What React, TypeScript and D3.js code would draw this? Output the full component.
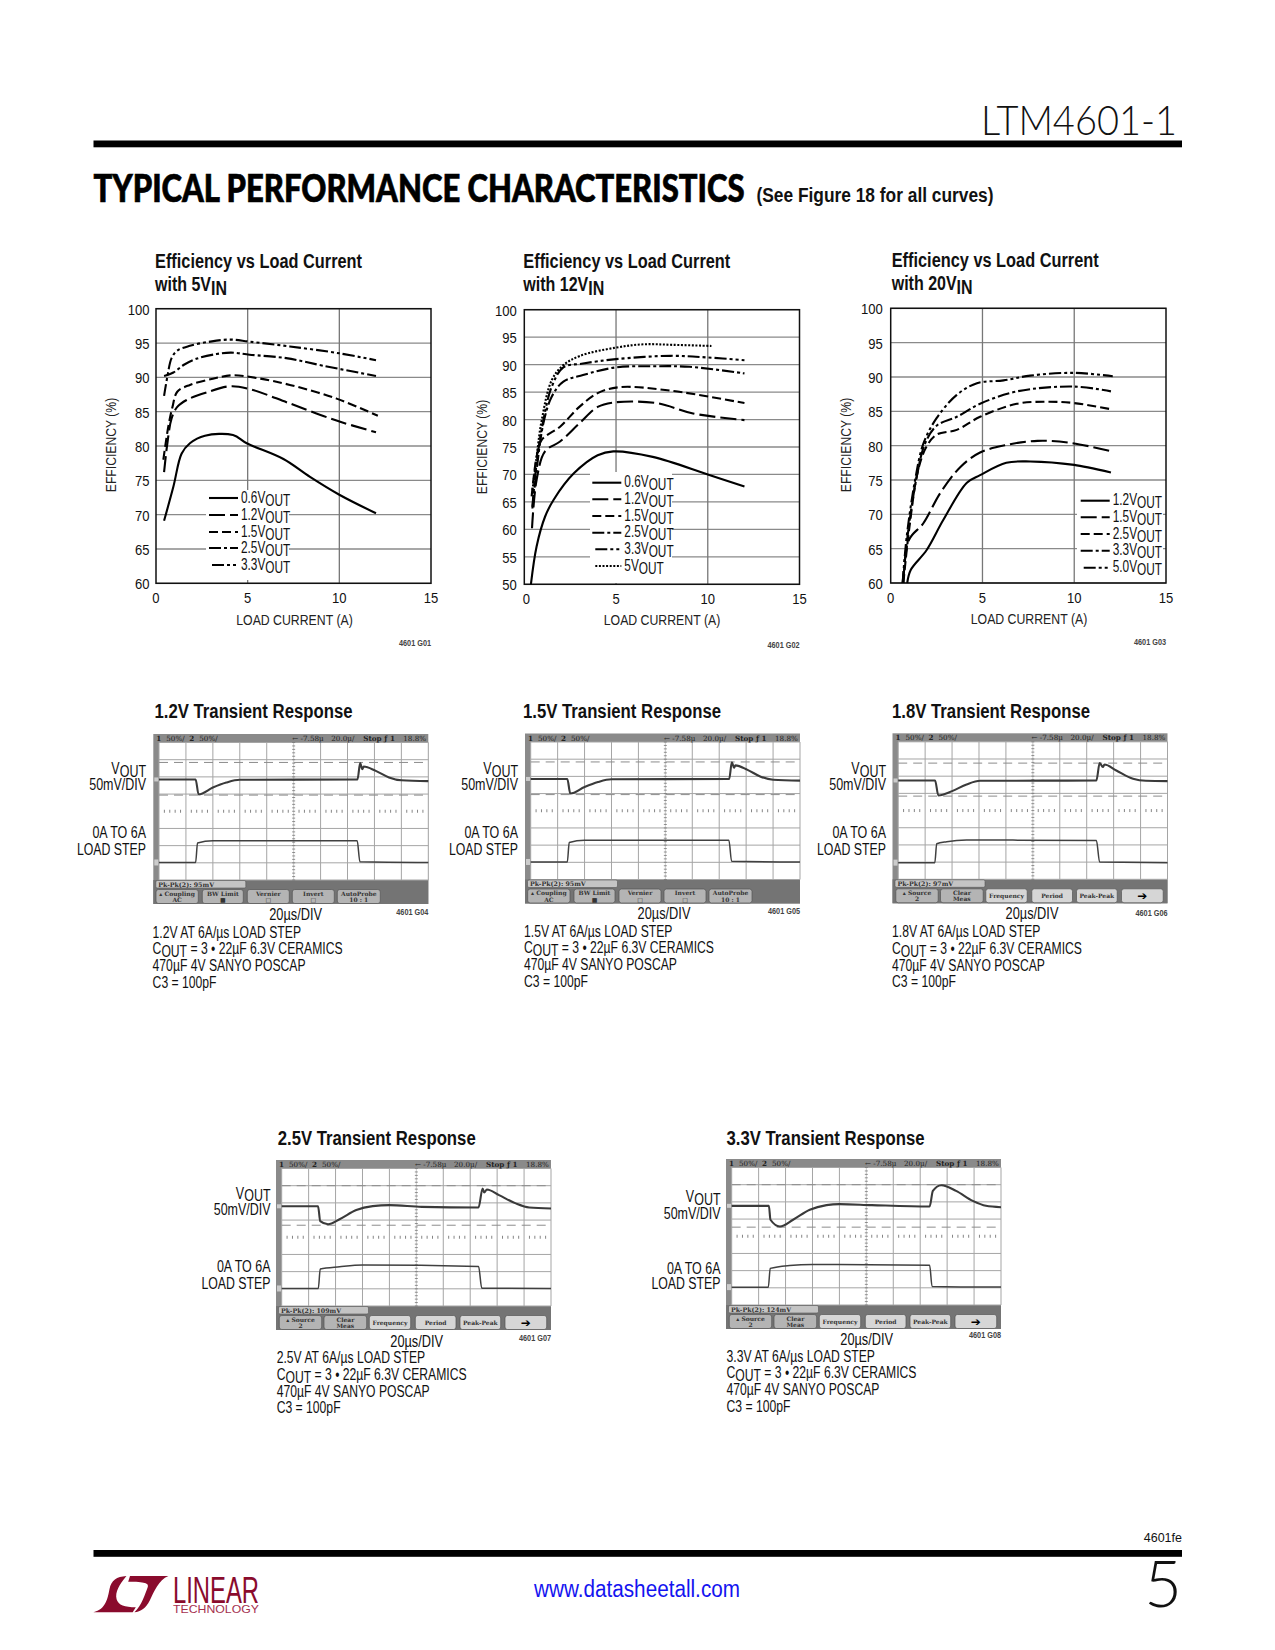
import React from "react";
import * as d3 from "d3";

type P = [number, number];
const NARROW = "'Liberation Sans',sans-serif";

// ---- Efficiency data: [load current A, efficiency %]
const eff5_06: P[] = [[.44,69.1],[.95,74.1],[1.4,78.9],[1.85,80.4],[2.67,81.5],[4.2,81.6],[4.95,80.4],[6.95,78.1],[8.4,75.5],[10,72.9],[12,70.2]];
const eff5_12: P[] = [[.44,76.2],[.62,80.4],[.85,84],[1.16,85.7],[1.67,86.7],[2.76,87.8],[4.04,88.7],[5.1,88.3],[7.3,86.2],[9.85,83.7],[12,82]];
const eff5_15: P[] = [[.4,78],[.67,82.8],[.9,85.7],[1.16,87.9],[1.85,88.9],[3.1,89.8],[4.2,90.3],[5.5,89.9],[7.3,88.9],[9.85,86.9],[12.1,84.4]];
const eff5_25: P[] = [[.44,90.2],[.95,90.7],[1.5,91.8],[2.2,92.7],[3.3,93.4],[4.1,93.6],[5.1,93.3],[7.1,92.8],[9.1,91.7],[12,90.2]];
const eff5_33: P[] = [[.44,87.3],[.62,90.1],[.85,92.8],[1.16,93.9],[1.85,94.6],[2.95,95.2],[4.04,95.5],[5.1,95.2],[7.3,94.5],[10,93.5],[12,92.5]];

const eff12_06: P[] = [[.36,50],[.67,56.9],[1.13,62.3],[1.6,65.4],[2.7,70.2],[4,73.5],[4.85,74.2],[7,73.2],[10,70],[12,67.8]];
const eff12_12: P[] = [[.42,60.2],[.67,69],[1.13,74.2],[1.95,76],[3,79.3],[4,82.3],[4.85,83.1],[7.2,83],[9.2,81.1],[12,79.9]];
const eff12_15: P[] = [[.4,66],[.67,73.2],[.95,76.3],[1.95,78.7],[3,82.3],[4,84.8],[5.2,85.9],[8.1,85.2],[12,83]];
const eff12_25: P[] = [[.44,63.8],[.67,70.8],[1.04,79.3],[1.5,84.2],[2.13,86.9],[3.2,88.1],[5,89.5],[7,89.7],[9,89.6],[12,88.4]];
const eff12_33: P[] = [[.44,64.1],[.67,72],[1.04,79.9],[1.5,86],[2.13,89.5],[3.2,90.2],[5,91],[7.96,91.6],[10,91.3],[12,90.8]];
const eff12_50: P[] = [[.45,67.2],[.67,73.2],[.95,79.9],[1.5,87.2],[2.13,89.9],[3.04,91.6],[5,93.1],[6.5,93.7],[8.1,93.6],[10.2,93.4]];

const eff20_12: P[] = [[.9,60],[1.09,61.9],[1.96,64.8],[2.87,69.2],[4.15,74.6],[4.87,75.7],[6.3,77.5],[7.6,77.7],[10,77.2],[12,76.1]];
const eff20_15: P[] = [[.69,60],[1,66.3],[1.78,68.7],[2.7,73.1],[3.8,76.9],[4.87,79],[6.3,80.1],[8,80.7],[9.8,80.4],[12,79.2]];
const eff20_25: P[] = [[.69,60],[1,67.7],[1.5,76.5],[1.96,79.9],[2.5,81.6],[3.6,82.3],[4.87,84.2],[6.87,86.1],[8.5,86.4],[10,86.2],[12,85.3]];
const eff20_33: P[] = [[.65,60],[.96,67.7],[1.42,75.5],[1.87,80.3],[2.5,82.9],[3.6,84.2],[4.87,86.1],[6.87,87.9],[10,88.6],[12,87.9]];
const eff20_50: P[] = [[.65,60],[.87,66.7],[1.33,75],[1.78,80.3],[2.5,84],[3.6,87.4],[4.7,89.1],[6.15,89.5],[7.6,90.2],[10,90.6],[12.1,90.1]];

const xTicks = [0, 5, 10, 15];
const yTicks60 = [60, 65, 70, 75, 80, 85, 90, 95, 100];
const yTicks50 = [50, 55, 60, 65, 70, 75, 80, 85, 90, 95, 100];
const DASH: Record<string, string> = {
  "0.6": "none", "1.2": "16 5", "1.5": "9 4", "2.5": "12 3 3 3", "3.3": "12 3 3 3 3 3", "5": "2 1.6",
};

// ---- Scope traces: [time division, screen division from top]
const v12: P[] = [[0,2.15],[1.36,2.15],[1.47,3.02],[2,2.62],[2.5,2.33],[3,2.17],[7.37,2.15],[7.47,1.2],[7.55,1.55],[7.6,1.4],[8.05,1.65],[8.54,2.03],[9,2.2],[10,2.25]];
const i12: P[] = [[0,6.98],[1.36,6.98],[1.43,5.85],[2,5.72],[7.36,5.72],[7.46,6.94],[10,6.98]];
const v15: P[] = [[0,2.15],[1.36,2.15],[1.47,3],[2,2.62],[2.5,2.33],[3,2.17],[7.37,2.15],[7.47,1.18],[7.55,1.5],[7.6,1.36],[8.05,1.62],[8.54,2.02],[9,2.2],[10,2.25]];
const i15: P[] = [[0,6.98],[1.36,6.98],[1.43,5.85],[2,5.72],[7.36,5.72],[7.46,6.94],[10,6.98]];
const v18: P[] = [[0,2.25],[1.37,2.25],[1.49,3.12],[2,2.87],[2.54,2.48],[3.04,2.27],[7.36,2.25],[7.48,1.24],[7.6,1.47],[7.66,1.32],[8.1,1.67],[8.72,2.15],[9.2,2.27],[10,2.29]];
const i18: P[] = [[0,7.03],[1.36,7.03],[1.43,5.93],[1.8,5.81],[2.54,5.72],[4.26,5.72],[7.36,5.74],[7.48,7],[10,7.03]];
const v25: P[] = [[0,2.2],[1.35,2.2],[1.43,3.06],[1.72,3.24],[2.15,2.95],[2.77,2.42],[3.38,2.19],[4,2.13],[5.2,2.23],[7.31,2.27],[7.46,1.16],[7.52,1.4],[7.62,1.22],[8.07,1.55],[8.69,2.03],[9.19,2.27],[10,2.33]];
const i25: P[] = [[0,6.98],[1.36,6.98],[1.43,5.85],[2.15,5.72],[3,5.62],[7.31,5.7],[7.43,6.96],[10,6.98]];
const v33: P[] = [[0,2.23],[1.38,2.23],[1.44,3.04],[1.79,3.43],[2.28,3.04],[2.9,2.46],[3.52,2.19],[4,2.13],[5.2,2.19],[7.35,2.27],[7.47,1.36],[7.78,1.03],[8.33,1.36],[8.95,1.94],[9.44,2.23],[10,2.31]];
const i33: P[] = [[0,6.96],[1.36,6.96],[1.43,5.87],[2.15,5.7],[3,5.64],[7.35,5.68],[7.44,6.92],[10,6.96]];

const timeDivs = d3.range(0, 11);
const vertDivs = d3.range(0, 9);
const captionTail = ["470µF 4V SANYO POSCAP", "C3 = 100pF"];
const buttonsA = [["Coupling", "AC"], ["BW Limit", "■"], ["Vernier", "□"], ["Invert", "□"], ["AutoProbe", "10 : 1"]];
const buttonsB = [["Source", "2"], ["Clear", "Meas"], ["Frequency"], ["Period"], ["Peak-Peak"], ["➔"]];

type TP = React.SVGProps<SVGTextElement> & { sx?: number; rot?: boolean };
// Liberation Sans squeezed horizontally stands in for the reference's Helvetica Narrow.
const T = ({ sx = 0.77, rot, x = 0, y = 0, ...p }: TP) =>
  p.textLength
    ? <text x={x} y={y} fontFamily={NARROW} fill="#111" {...p} />
    : <text transform={`translate(${x},${y})${rot ? " rotate(-90)" : ""} scale(${sx},1)`} fontFamily={NARROW} fill="#111" {...p} />;
const Sub = ({ a, b, c, drop = 3 }: { a: string; b: string; c?: string; drop?: number }) => (
  <>
    {a}<tspan dy={drop}>{b}</tspan>{c ? <tspan dy={-drop}>{c}</tspan> : null}
  </>
);

interface Series { name: string; dash: string; data: P[]; legendInset?: number }
interface EffProps {
  left: number; right: number; top: number; bottom: number; yMin: number; yTicks: number[];
  series: Series[]; title: string; sub: string; titleX: number; titleY: number;
  yLabelEnd: number; zeroX: number; axisX: number; axisMidY: number; xLabelX: number; xLabelY: number;
  code: string; codeY: number; legX: number; legY: number[]; mask: [number, number, number, number];
}

function EffChart(c: EffProps) {
  const x = d3.scaleLinear().domain([0, 15]).range([c.left, c.right]);
  const y = d3.scaleLinear().domain([c.yMin, 100]).range([c.bottom, c.top]);
  const line = d3.line<P>().x(d => x(d[0])).y(d => y(d[1])).curve(d3.curveCatmullRom.alpha(0.5));
  return (
    <g>
      <T x={c.titleX} y={c.titleY} fontSize={20} fontWeight="bold" textLength={207} lengthAdjust="spacingAndGlyphs">{c.title}</T>
      <T x={c.titleX} y={c.titleY + 23} fontSize={20} sx={0.8} fontWeight="bold">with {c.sub}<tspan dy={4}>IN</tspan></T>
      {c.yTicks.map(t => <line key={t} x1={c.left} x2={c.right} y1={y(t)} y2={y(t)} stroke="#8a8a8a" strokeWidth={1.3} />)}
      {[5, 10].map(t => <line key={t} x1={x(t)} x2={x(t)} y1={c.top} y2={c.bottom} stroke="#777" strokeWidth={1.3} />)}
      <rect x={c.mask[0]} y={c.mask[1]} width={c.mask[2]} height={c.mask[3]} fill="#fff" />
      <rect x={c.left} y={c.top} width={c.right - c.left} height={c.bottom - c.top} fill="none" stroke="#111" strokeWidth={1.5} />
      {c.series.map(s => <path key={s.name} d={line(s.data) ?? ""} fill="none" stroke="#000" strokeWidth={2.1} strokeDasharray={s.dash} />)}
      {c.series.map((s, i) => (
        <g key={s.name}>
          <line x1={c.legX - 32 + (s.legendInset ?? 0)} x2={c.legX - 3} y1={c.legY[i]} y2={c.legY[i]} stroke="#000" strokeWidth={2.1} strokeDasharray={s.dash} />
          <T x={c.legX} y={c.legY[i] + 4.5} fontSize={16} sx={0.74}><Sub a={s.name + "V"} b="OUT" /></T>
        </g>
      ))}
      {c.yTicks.map(t => <T key={t} x={c.yLabelEnd} y={y(t) + 6} fontSize={15} sx={0.87} textAnchor="end">{t}</T>)}
      {xTicks.map(t => <T key={t} x={t === 0 ? c.zeroX : x(t)} y={c.bottom + 20} fontSize={15} sx={0.87} textAnchor="middle">{t}</T>)}
      <T x={c.axisX} y={c.axisMidY} rot fontSize={14} sx={0.87} textAnchor="middle" fill="#222">EFFICIENCY (%)</T>
      <T x={c.xLabelX} y={c.xLabelY} fontSize={15} sx={0.82} textAnchor="middle" fill="#222">LOAD CURRENT (A)</T>
      <T x={c.right} y={c.codeY} fontSize={8.5} sx={0.86} textAnchor="end" fontWeight="bold" fill="#444">{c.code}</T>
    </g>
  );
}

interface ScopeProps {
  left: number; top: number; v: P[]; i: P[]; upper: number; lower: number; pk: string; buttons: string[][];
  title: string; titleX: number; titleY: number; labelRight: number; labelY: number[]; tbX: number; tbY: number; capX: number; capY: number;
  volt: string; code: string; codeY: number;
}

function Scope(s: ScopeProps) {
  const W = 275, H = 170, inset = 5.7;
  const x = d3.scaleLinear().domain([0, 10]).range([s.left + inset, s.left + W]);
  const y = d3.scaleLinear().domain([0, 8]).range([s.top + 8.5, s.top + 146]);
  const line = d3.line<P>().x(d => x(d[0])).y(d => y(d[1])).curve(d3.curveMonotoneX);
  const six = s.buttons.length === 6;
  const slots = six
    ? [[3.3, 42.4], [48, 42.7], [93.3, 41.4], [139.3, 40.7], [184, 40.7], [229, 41.7]]
    : [[2.7, 42.3], [49, 41], [94, 42], [139, 42], [184, 43]];
  const ticks = d3.range(0, 10.01, 0.2).filter(t => Math.abs(t - Math.round(t)) > 0.1);
  const vticks = d3.range(0, 8.01, 0.2);
  return (
    <g>
      <T x={s.titleX} y={s.titleY} fontSize={20} fontWeight="bold" textLength={198} lengthAdjust="spacingAndGlyphs">{s.title}</T>
      <rect x={s.left} y={s.top} width={W} height={H} fill="#8a8a8a" />
      <rect x={s.left} y={s.top + 146} width={W} height={H - 146} fill="#747474" />
      <rect x={x(0)} y={y(0)} width={W - inset} height={y(8) - y(0)} fill="#fff" />
      {timeDivs.map(t => <line key={t} x1={x(t)} x2={x(t)} y1={y(0)} y2={y(8)} stroke={t === 5 ? "#ccc" : "#a5a5a5"} strokeWidth={1} />)}
      {vertDivs.map(t => t === 4 ? null : <line key={t} x1={x(0)} x2={x(10)} y1={y(t)} y2={y(t)} stroke="#a5a5a5" strokeWidth={1} />)}
      {ticks.map(t => <line key={t} x1={x(t)} x2={x(t)} y1={y(4) - 1.5} y2={y(4) + 1.5} stroke="#666" strokeWidth={0.8} />)}
      {vticks.map(t => <line key={t} x1={x(5) - 1.5} x2={x(5) + 1.5} y1={y(t)} y2={y(t)} stroke="#777" strokeWidth={0.8} />)}
      <line x1={x(0)} x2={x(10)} y1={y(s.upper)} y2={y(s.upper)} stroke="#8c8c8c" strokeWidth={1} strokeDasharray="9 6" />
      <line x1={x(0)} x2={x(10)} y1={y(s.lower)} y2={y(s.lower)} stroke="#8c8c8c" strokeWidth={1} strokeDasharray="9 6" />
      <path d={line(s.v) ?? ""} fill="none" stroke="#3a3a3a" strokeWidth={2.1} />
      <path d={line(s.i) ?? ""} fill="none" stroke="#404040" strokeWidth={1.5} />
      <rect x={s.left + 1} y={y(s.v[0][1]) - 2} width={4} height={4} fill="#ccc" />
      <rect x={s.left + 1} y={y(s.i[0][1]) - 3} width={4} height={6} fill="#ccc" />
      <g fontFamily="'DejaVu Serif',serif" fontSize={7.2} fill="#222">
        <text x={s.left + 3} y={s.top + 7} fontWeight="bold">1</text>
        <text x={s.left + 13} y={s.top + 7}>50%/</text>
        <text x={s.left + 36} y={s.top + 7} fontWeight="bold">2</text>
        <text x={s.left + 46} y={s.top + 7}>50%/</text>
        <text x={s.left + 139} y={s.top + 7}>← -7.58µ</text>
        <text x={s.left + 178} y={s.top + 7}>20.0µ/</text>
        <text x={s.left + 210} y={s.top + 7} fontWeight="bold">Stop</text>
        <text x={s.left + 231} y={s.top + 7} fontWeight="bold">ƒ 1</text>
        <text x={s.left + 250} y={s.top + 7}>18.8%</text>
      </g>
      <rect x={s.left + 2.5} y={s.top + 146.5} width={90} height={7.5} rx={1.5} fill="#c4c4c4" stroke="#555" strokeWidth={0.6} />
      <text x={s.left + 5} y={s.top + 152.5} fontFamily="'DejaVu Serif',serif" fontSize={6.3} fontWeight="bold" fill="#333">{s.pk}</text>
      {s.buttons.map((b, i) => {
        const [bx, bw] = slots[i];
        const light = six && i >= 2;
        const arrow = b[0] === "➔";
        return (
          <g key={i} fontFamily="'DejaVu Serif',serif" fontSize={6} fontWeight="bold" fill="#333" textAnchor="middle">
            <rect x={s.left + bx} y={s.top + 155.5} width={bw} height={14} rx={2.5} fill={light ? "#d6d6d6" : "#b4b4b4"} stroke="#555" strokeWidth={0.7} />
            {b.length === 2 ? (
              <>
                <text x={s.left + bx + bw / 2} y={s.top + 161.5}>{(i === 0 ? "▴ " : "") + b[0]}</text>
                <text x={s.left + bx + bw / 2} y={s.top + 168}>{b[1]}</text>
              </>
            ) : (
              <text x={s.left + bx + bw / 2} y={s.top + (arrow ? 166.5 : 165)} fontSize={arrow ? 12 : 6} fill={arrow ? "#000" : "#333"} fontFamily={arrow ? "'DejaVu Sans',sans-serif" : undefined}>{b[0]}</text>
            )}
          </g>
        );
      })}
      <T x={s.labelRight} y={s.labelY[0]} fontSize={16} sx={0.78} textAnchor="end"><Sub a="V" b="OUT" drop={2.5} /></T>
      <T x={s.labelRight} y={s.labelY[1]} fontSize={16} sx={0.78} textAnchor="end">50mV/DIV</T>
      <T x={s.labelRight} y={s.labelY[2]} fontSize={16} sx={0.78} textAnchor="end">0A TO 6A</T>
      <T x={s.labelRight} y={s.labelY[3]} fontSize={16} sx={0.77} textAnchor="end">LOAD STEP</T>
      <T x={s.tbX} y={s.tbY} fontSize={16} sx={0.8} textAnchor="middle">20µs/DIV</T>
      <T x={s.left + W} y={s.codeY} fontSize={8.5} sx={0.86} textAnchor="end" fontWeight="bold" fill="#444">{s.code}</T>
      <T x={s.capX} y={s.capY} fontSize={16} sx={0.76}>{s.volt} AT 6A/µs LOAD STEP</T>
      <T x={s.capX} y={s.capY + 16.8} fontSize={16} sx={0.76}><Sub a="C" b="OUT" c=" = 3 • 22µF 6.3V CERAMICS" /></T>
      {captionTail.map((l, i) => <T key={l} x={s.capX} y={s.capY + 33.6 + 16.8 * i} fontSize={16} sx={0.76}>{l}</T>)}
    </g>
  );
}

const RED = "#8a0b2d";
function Logo() {
  return (
    <g fill={RED}>
      <g transform="translate(80,1530) scale(0.4464,0.3333)">
        <path d="M30,247 C58,238 62,205 66,178 C70,150 82,140 104,138 C88,165 78,185 82,208 C86,226 100,232 125,232 L118,247 Z" />
        <path d="M112,138 L198,138 C176,150 166,185 156,212 C148,234 136,244 122,247 C138,226 146,192 152,170 C154,160 146,155 108,155 Z" />
      </g>
      <text x={173} y={1602.5} fontFamily="'Liberation Sans',sans-serif" fontSize={37} textLength={86} lengthAdjust="spacingAndGlyphs" fill={RED}>LINEAR</text>
      <text x={173} y={1612.5} fontFamily="'Liberation Sans',sans-serif" fontSize={11} textLength={86} lengthAdjust="spacingAndGlyphs" fill="#a5314f">TECHNOLOGY</text>
    </g>
  );
}

export default function App() {
  return (
    <svg width={1275} height={1650} viewBox="0 0 1275 1650" style={{ position: "absolute", left: 0, top: 0, background: "#fff" }}>
      <text x={981} y={135} fontFamily="Lato,'Open Sans',sans-serif" fontWeight={300} fontSize={41} textLength={196} lengthAdjust="spacingAndGlyphs" fill="#111">LTM4601-1</text>
      <rect x={93.5} y={140.5} width={1088.5} height={6.8} fill="#000" />
      <text x={93.5} y={201.5} fontFamily="Lato,'DejaVu Sans',sans-serif" fontWeight={900} fontSize={37} stroke="#000" strokeWidth={0.7} textLength={651} lengthAdjust="spacingAndGlyphs" fill="#000">TYPICAL PERFORMANCE CHARACTERISTICS</text>
      <T x={756.5} y={201.5} fontSize={20} fontWeight="bold" textLength={237} lengthAdjust="spacingAndGlyphs">(See Figure 18 for all curves)</T>

      <EffChart left={156} right={431} top={308.7} bottom={583.3} yMin={60} yTicks={yTicks60}
        series={[
          { name: "0.6", dash: DASH["0.6"], data: eff5_06 }, { name: "1.2", dash: DASH["1.2"], data: eff5_12 },
          { name: "1.5", dash: DASH["1.5"], data: eff5_15 }, { name: "2.5", dash: DASH["2.5"], data: eff5_25 },
          { name: "3.3", dash: DASH["3.3"], data: eff5_33, legendInset: 3 },
        ]}
        title="Efficiency vs Load Current" sub="5V" titleX={155} titleY={267.5} yLabelEnd={149.5} zeroX={156}
        axisX={116} axisMidY={445} xLabelX={294.5} xLabelY={625} code="4601 G01" codeY={646}
        legX={241} legY={[498, 515, 532, 548, 565]} mask={[206, 490, 83, 90]} />
      <EffChart left={524.3} right={799.5} top={309.7} bottom={584.3} yMin={50} yTicks={yTicks50}
        series={[
          { name: "0.6", dash: DASH["0.6"], data: eff12_06 }, { name: "1.2", dash: DASH["1.2"], data: eff12_12 },
          { name: "1.5", dash: DASH["1.5"], data: eff12_15 }, { name: "2.5", dash: DASH["2.5"], data: eff12_25 },
          { name: "3.3", dash: DASH["3.3"], data: eff12_33, legendInset: 3 }, { name: "5", dash: DASH["5"], data: eff12_50, legendInset: 3 },
        ]}
        title="Efficiency vs Load Current" sub="12V" titleX={523.3} titleY={267.5} yLabelEnd={516.7} zeroX={526.3}
        axisX={486.7} axisMidY={447} xLabelX={662} xLabelY={625} code="4601 G02" codeY={648}
        legX={624.3} legY={[482.7, 499.3, 516, 532.7, 549.3, 566]} mask={[590, 472, 82, 111]} />
      <EffChart left={890.7} right={1166} top={308.3} bottom={583} yMin={60} yTicks={yTicks60}
        series={[
          { name: "1.2", dash: DASH["0.6"], data: eff20_12 }, { name: "1.5", dash: DASH["1.2"], data: eff20_15 },
          { name: "2.5", dash: DASH["1.5"], data: eff20_25 }, { name: "3.3", dash: DASH["2.5"], data: eff20_33 },
          { name: "5.0", dash: DASH["3.3"], data: eff20_50, legendInset: 3 },
        ]}
        title="Efficiency vs Load Current" sub="20V" titleX={891.7} titleY={266.5} yLabelEnd={882.7} zeroX={890.7}
        axisX={851} axisMidY={445} xLabelX={1029} xLabelY={624} code="4601 G03" codeY={645}
        legX={1112.7} legY={[500.7, 517.3, 534, 550.7, 567.7]} mask={[1077, 492, 86, 88]} />

      <Scope left={153.3} top={734} v={v12} i={i12} upper={1.16} lower={3.06} pk="Pk-Pk(2):  95mV" buttons={buttonsA}
        title="1.2V Transient Response" titleX={154.5} titleY={718.3} labelRight={146} labelY={[774, 790, 838, 855]}
        tbX={295.6} tbY={919.5} capX={152.6} capY={937.5} volt="1.2V" code="4601 G04" codeY={915} />
      <Scope left={525} top={733.5} v={v15} i={i15} upper={1.16} lower={3.06} pk="Pk-Pk(2):  95mV" buttons={buttonsA}
        title="1.5V Transient Response" titleX={523} titleY={718.3} labelRight={518} labelY={[774, 790, 838, 855]}
        tbX={664} tbY={918.5} capX={524} capY={936.5} volt="1.5V" code="4601 G05" codeY={914} />
      <Scope left={892.5} top={733.3} v={v18} i={i18} upper={1.24} lower={3.16} pk="Pk-Pk(2):  97mV" buttons={buttonsB}
        title="1.8V Transient Response" titleX={892} titleY={718.3} labelRight={886} labelY={[774, 790, 838, 855]}
        tbX={1032} tbY={919} capX={892} capY={937} volt="1.8V" code="4601 G06" codeY={916} />
      <Scope left={276} top={1160} v={v25} i={i25} upper={1} lower={3.3} pk="Pk-Pk(2):  109mV" buttons={buttonsB}
        title="2.5V Transient Response" titleX={277.7} titleY={1145} labelRight={270.5} labelY={[1198.5, 1215, 1271.5, 1288.5]}
        tbX={416.7} tbY={1346.5} capX={276.7} capY={1363} volt="2.5V" code="4601 G07" codeY={1341} />
      <Scope left={726} top={1159} v={v33} i={i33} upper={1} lower={3.47} pk="Pk-Pk(2):  124mV" buttons={buttonsB}
        title="3.3V Transient Response" titleX={726.5} titleY={1145} labelRight={720.5} labelY={[1202, 1218.5, 1273.5, 1288.5]}
        tbX={866.7} tbY={1344.5} capX={726.5} capY={1361.5} volt="3.3V" code="4601 G08" codeY={1338} />

      <text x={1182} y={1541.5} fontFamily="'Liberation Sans',sans-serif" fontSize={12.5} textAnchor="end" fill="#111">4601fe</text>
      <rect x={93.5} y={1550} width={1088.5} height={6.8} fill="#000" />
      <Logo />
      <T x={534} y={1597} fontSize={23} textLength={206} lengthAdjust="spacingAndGlyphs" fill="#1414f0">www.datasheetall.com</T>
      <text x={1182} y={1607} fontFamily="Lato,'Open Sans',sans-serif" fontWeight={300} fontSize={65} textAnchor="end" fill="#111">5</text>
    </svg>
  );
}
